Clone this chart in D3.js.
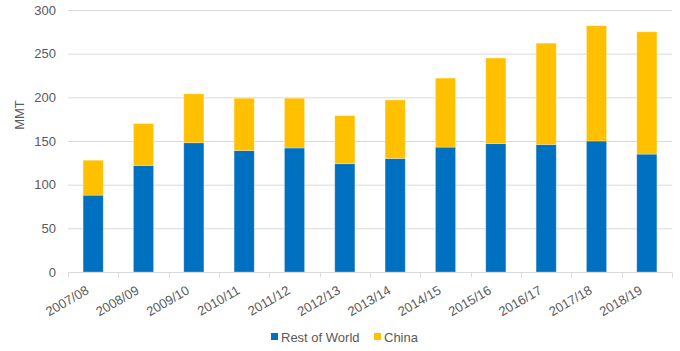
<!DOCTYPE html>
<html><head><meta charset="utf-8">
<script src="https://cdn.jsdelivr.net/npm/d3@7"></script>
<style>body{margin:0;background:#fff;}svg{display:block;font-family:"Liberation Sans",Arial,sans-serif;}</style>
</head><body><svg id="c" width="680" height="351"></svg>
<script>
const categories = ["2007/08","2008/09","2009/10","2010/11","2011/12","2012/13","2013/14","2014/15","2015/16","2016/17","2017/18","2018/19"];
const restOfWorld = [88,122,148,139,142,124,130,143,147,146,150,135];
const china = [40,48,56,60,57,55,67,79,98,116,132,140];
const seriesNames = ["Rest of World","China"];
const colors = ["#0070C0","#FFC000"];
const yTicks = [0,50,100,150,200,250,300];

const svg = d3.select("#c");
const m = {l:68, r:8, t:10, b:79};
const W = 680, H = 351;
const x = d3.scaleBand().domain(categories).range([m.l, W-m.r]).paddingInner(0.6).paddingOuter(0.3);
const y = d3.scaleLinear().domain([0,300]).range([H-m.b, m.t]);
const txt = "#595959";

// gridlines
svg.append("g").selectAll("line").data(yTicks.slice(1)).join("line")
  .attr("x1", m.l).attr("x2", W-m.r).attr("y1", d=>y(d)+0.5).attr("y2", d=>y(d)+0.5)
  .attr("stroke","#d9d9d9").attr("stroke-width",1);

// y axis labels
const ya = svg.append("g").attr("transform",`translate(${m.l-12},0)`)
  .call(d3.axisLeft(y).tickValues(yTicks).tickSize(0).tickPadding(0));
ya.select(".domain").remove();
ya.selectAll("text").attr("fill",txt).attr("font-size",13).attr("font-family","Liberation Sans, Arial, sans-serif");

// stacked bars
const rows = categories.map((c,i)=>({cat:c, rw:restOfWorld[i], cn:china[i]}));
const stack = d3.stack().keys(["rw","cn"])(rows);
svg.append("g").selectAll("g").data(stack).join("g").attr("fill",(d,i)=>colors[i])
  .selectAll("rect").data(d=>d).join("rect")
  .attr("x", d=>x(d.data.cat)).attr("width", x.bandwidth())
  .attr("y", d=>y(d[1])).attr("height", d=>y(d[0])-y(d[1]))
  .attr("stroke","rgba(255,255,255,0.35)").attr("stroke-width",0.8);

// x axis
const x0 = m.l, x1 = W-m.r;
const xb = H-m.b + 0.5;
svg.append("line").attr("x1",x0).attr("x2",x1).attr("y1",xb).attr("y2",xb).attr("stroke","#d9d9d9");
const bounds = d3.range(categories.length+1).map(i=> x0 + i*(x1-x0)/categories.length);
svg.append("g").selectAll("line").data(bounds).join("line")
  .attr("x1",d=>Math.round(d)+0.5).attr("x2",d=>Math.round(d)+0.5).attr("y1",xb).attr("y2",xb+5)
  .attr("stroke","#d9d9d9");
svg.append("g").selectAll("text").data(categories).join("text")
  .attr("transform", d=>`translate(${x(d)+x.bandwidth()/2-3.5},293) rotate(-30)`)
  .attr("text-anchor","end")
  .attr("fill",txt).attr("font-size",13).text(d=>d);

// y title
svg.append("text").attr("transform","translate(24,115) rotate(-90)").attr("text-anchor","middle")
  .attr("fill",txt).attr("font-size",13).text("MMT");

// legend
const lg = svg.append("g");
const legX = [271, 374];
seriesNames.forEach((n,i)=>{
  lg.append("rect").attr("x",legX[i]).attr("y",333).attr("width",7).attr("height",7).attr("fill",colors[i]);
  lg.append("text").attr("x",legX[i]+10).attr("y",341.5).attr("fill",txt).attr("font-size",13).text(n);
});
</script></body></html>
